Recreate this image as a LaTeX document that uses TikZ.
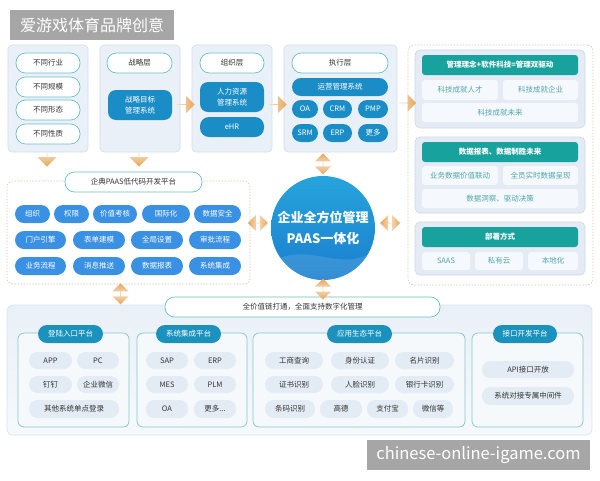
\documentclass[tikz,border=0pt]{standalone}
\usepackage{fontspec}
\setmainfont{Noto Sans CJK SC}
\usetikzlibrary{shapes.arrows,calc}
\definecolor{panelbg}{HTML}{EAF0F8}
\definecolor{panelbd}{HTML}{D3DEEA}
\definecolor{pillbd}{HTML}{6BBFC6}
\definecolor{bblue}{HTML}{1A8DC6}
\definecolor{mblue}{HTML}{3A90E2}
\definecolor{teal1}{HTML}{18A29D}
\definecolor{rpbg}{HTML}{E4EBF5}
\definecolor{rpbd}{HTML}{CDD8E6}
\definecolor{rsubbg}{HTML}{F5F8FC}
\definecolor{rsubtxt}{HTML}{4FA7AD}
\definecolor{spbd}{HTML}{83C6CB}
\definecolor{spbg}{HTML}{F6F9FC}
\definecolor{bblue2}{HTML}{1B92BD}
\definecolor{itembg}{HTML}{E3EBF4}
\definecolor{greybg}{HTML}{A6A6A6}
\definecolor{txt}{HTML}{333333}
\definecolor{dashc}{HTML}{DCC7B2}
\definecolor{bigbd}{HTML}{D8E2ED}
\definecolor{arrL}{HTML}{F5DDBE}
\definecolor{arrD}{HTML}{E6A65A}
\definecolor{circT}{HTML}{27A4DC}
\definecolor{circB}{HTML}{1A7ECF}
\newcommand\bx[7]{\node[#1, minimum width={(#5)-(#3)}, minimum height={(#6)-(#4)}, inner sep=0pt] (#2) at ({((#3)+(#5))/2},{((#4)+(#6))/2}) {#7};}
\tikzset{
  panel/.style={fill=panelbg, draw=panelbd, line width=0.6pt, rounded corners=4pt},
  wpill/.style={fill=white, draw=pillbd, line width=0.7pt, rounded corners=9.5pt, text=txt, font=\fontsize{7.5}{9}\selectfont},
  bbox/.style={fill=bblue, text=white, rounded corners=8pt, align=center, font=\fontsize{7.5}{11}\selectfont},
  bpill/.style={fill=bblue, text=white, rounded corners=9pt, font=\fontsize{7.5}{9}\selectfont},
  mpill/.style={fill=mblue, text=white, rounded corners=9pt, font=\fontsize{7.5}{9}\selectfont},
  dbox/.style={draw=dashc, dash pattern=on 1.5pt off 1.5pt, line width=0.6pt, rounded corners=6pt},
  rpanel/.style={fill=rpbg, draw=rpbd, line width=0.6pt, rounded corners=5pt},
  rhead/.style={fill=teal1, text=white, rounded corners=3pt, font=\fontsize{7.5}{9}\selectfont\bfseries},
  rsub/.style={fill=rsubbg, text=rsubtxt, rounded corners=3pt, font=\fontsize{7.5}{9}\selectfont},
  bigp/.style={top color=panelbg, bottom color=spbg, draw=bigbd, line width=0.6pt, rounded corners=6pt},
  spanel/.style={fill=spbg, draw=spbd, line width=0.7pt, rounded corners=6pt},
  shead/.style={fill=bblue2, text=white, rounded corners=9pt, font=\fontsize{7.5}{9}\selectfont},
  item/.style={fill=itembg, text=txt, rounded corners=8.5pt, font=\fontsize{7.5}{9}\selectfont},
  greybox/.style={fill=greybg, text=white},
  harr/.style={single arrow, minimum height=17, minimum width=17, single arrow head extend=4, inner sep=0pt, left color=arrL, right color=arrD},
  darr/.style={single arrow, shape border rotate=270, minimum height=14, minimum width=19, single arrow head extend=4.5, inner sep=0pt, top color=arrL, bottom color=arrD},
  hdarr/.style={double arrow, minimum height=20, minimum width=16, double arrow head extend=4, inner sep=0pt, left color=arrD, right color=arrD, middle color=arrL},
  vdarr/.style={double arrow, shape border rotate=90, minimum height=21, minimum width=16, double arrow head extend=4, inner sep=0pt, top color=arrD, bottom color=arrD, middle color=arrL},
}
\begin{document}
\begin{tikzpicture}[x=1pt,y=-1pt, font=\fontsize{7.5}{9}\selectfont, text=txt]
\fill[white] (0,0) rectangle (600,480);
\useasboundingbox (0,0) rectangle (600,480);
% title
\bx{greybox, font=\fontsize{16}{18}\selectfont}{title}{10}{10}{174}{40}{爱游戏体育品牌创意}
% top row panels
\bx{panel}{p1}{8}{45}{88}{152}{}
\bx{panel}{p2}{100}{45}{180}{152}{}
\bx{panel}{p3}{192}{45}{272}{152}{}
\bx{panel}{p4}{284}{45}{397}{152}{}
\bx{wpill}{a1}{16}{53}{80}{73}{不同行业}
\bx{wpill}{a2}{16}{77}{80}{97}{不同规模}
\bx{wpill}{a3}{16}{100}{80}{120}{不同形态}
\bx{wpill}{a4}{16}{124}{80}{144}{不同性质}
\bx{wpill}{b1}{107}{53}{172}{73}{战略层}
\bx{bbox}{b2}{108}{90}{172}{120}{战略目标\\管理系统}
\bx{wpill}{c1}{200}{53}{264}{73}{组织层}
\bx{bbox}{c2}{200}{82}{264}{112}{人力资源\\管理系统}
\bx{bpill}{c3}{200}{117}{264}{137}{eHR}
\bx{wpill}{d1}{292}{53}{388}{73}{执行层}
\bx{bpill}{d2}{292}{78}{388}{96}{运营管理系统}
\bx{bpill}{d3}{292}{100}{318}{118}{OA}
\bx{bpill}{d4}{323}{100}{352}{118}{CRM}
\bx{bpill}{d5}{358}{100}{388}{118}{PMP}
\bx{bpill}{d6}{292}{124}{318}{142}{SRM}
\bx{bpill}{d7}{323}{124}{352}{142}{ERP}
\bx{bpill}{d8}{358}{124}{388}{142}{更多}
% right dashed box
\bx{dbox}{rbox}{408}{45}{593}{285}{}
\bx{rpanel}{ra}{415}{50}{585}{128}{}
\bx{rhead}{ra0}{422}{55}{578}{75}{管理理念+软件科技=管理双驱动}
\bx{rsub}{ra1}{422}{80}{498}{100}{科技成就人才}
\bx{rsub}{ra2}{503}{80}{578}{100}{科技成就企业}
\bx{rsub}{ra3}{422}{103}{578}{122}{科技成就未来}
\bx{rpanel}{rb}{415}{137}{585}{213}{}
\bx{rhead}{rb0}{422}{142}{578}{162}{数据报表、数据制胜未来}
\bx{rsub}{rb1}{422}{166}{498}{185}{业务数据价值联动}
\bx{rsub}{rb2}{503}{166}{578}{185}{全员实时数据呈现}
\bx{rsub}{rb3}{422}{189}{578}{208}{数据洞察、驱动决策}
\bx{rpanel}{rc}{415}{222}{585}{275}{}
\bx{rhead}{rc0}{422}{227}{578}{247}{部署方式}
\bx{rsub}{rc1}{422}{252}{470}{270}{SAAS}
\bx{rsub}{rc2}{475}{252}{523}{270}{私有云}
\bx{rsub}{rc3}{528}{252}{578}{270}{本地化}
% middle left dashed box
\bx{dbox}{mbox}{7}{181}{250}{284}{}
\bx{wpill}{m0}{65}{172}{202}{192}{企典PAAS低代码开发平台}
\bx{mpill}{m1}{15}{205}{50}{223}{组织}
\bx{mpill}{m2}{54}{205}{89}{223}{权限}
\bx{mpill}{m3}{93}{205}{137}{223}{价值考核}
\bx{mpill}{m4}{142}{205}{190}{223}{国际化}
\bx{mpill}{m5}{194}{205}{241}{223}{数据安全}
\bx{mpill}{m6}{15}{231}{66}{249}{门户引擎}
\bx{mpill}{m7}{73}{231}{125}{249}{表单建模}
\bx{mpill}{m8}{131}{231}{183}{249}{全局设置}
\bx{mpill}{m9}{189}{231}{241}{249}{审批流程}
\bx{mpill}{m10}{15}{257}{66}{275}{业务流程}
\bx{mpill}{m11}{73}{257}{125}{275}{消息推送}
\bx{mpill}{m12}{131}{257}{183}{275}{数据报表}
\bx{mpill}{m13}{189}{257}{241}{275}{系统集成}
% circle
\node[circle, minimum size=104, inner sep=0pt, top color=circT, bottom color=circB] (circ) at (323,228) {};
\begin{scope}
\clip (circ.center) circle (52);
\fill[white, opacity=0.12] (271,262) .. controls (310,240) and (340,275) .. (376,250) -- (376,282) -- (271,282) -- cycle;
\end{scope}
\node[text=white, align=center, font=\fontsize{13}{21}\selectfont\bfseries] (circtxt) at (circ.center) {企业全方位管理\\PAAS一体化};
% bottom panel
\bx{bigp}{big}{7}{305}{592}{435}{}
\bx{wpill}{bl}{165}{297}{440}{317}{全价值链打通，全面支持数字化管理}
\bx{spanel}{s1}{18}{333}{129}{427}{}
\bx{spanel}{s2}{137}{333}{247}{427}{}
\bx{spanel}{s3}{253}{333}{465}{427}{}
\bx{spanel}{s4}{472}{333}{583}{427}{}
\bx{shead}{s1h}{38}{325}{103}{343}{登陆入口平台}
\bx{shead}{s2h}{156}{325}{221}{343}{系统集成平台}
\bx{shead}{s3h}{327}{325}{392}{343}{应用生态平台}
\bx{shead}{s4h}{493}{325}{557}{343}{接口开发平台}
\bx{item}{i1}{29}{352}{72}{369}{APP}
\bx{item}{i2}{77}{352}{119}{369}{PC}
\bx{item}{i3}{29}{376}{72}{393}{钉钉}
\bx{item}{i4}{77}{376}{119}{393}{企业微信}
\bx{item}{i5}{29}{400}{119}{418}{其他系统单点登录}
\bx{item}{j1}{146}{352}{188}{369}{SAP}
\bx{item}{j2}{194}{352}{236}{369}{ERP}
\bx{item}{j3}{146}{376}{188}{393}{MES}
\bx{item}{j4}{194}{376}{236}{393}{PLM}
\bx{item}{j5}{146}{400}{188}{418}{OA}
\bx{item}{j6}{194}{400}{236}{418}{更多...}
\bx{item}{k1}{265}{352}{323}{369}{工商查询}
\bx{item}{k2}{331}{352}{389}{369}{身份认证}
\bx{item}{k3}{395}{352}{454}{369}{名片识别}
\bx{item}{k4}{265}{376}{323}{393}{证书识别}
\bx{item}{k5}{331}{376}{389}{393}{人脸识别}
\bx{item}{k6}{395}{376}{454}{393}{银行卡识别}
\bx{item}{k7}{265}{400}{315}{418}{条码识别}
\bx{item}{k8}{320}{400}{362}{418}{高德}
\bx{item}{k9}{367}{400}{408}{418}{支付宝}
\bx{item}{k10}{413}{400}{453}{418}{微信等}
\bx{item}{l1}{482}{361}{574}{378}{API接口开放}
\bx{item}{l2}{482}{387}{574}{405}{系统对接专属中间件}
% watermark
\bx{greybox, font=\fontsize{16.5}{18}\selectfont}{wm}{367}{440}{590}{470}{chinese-online-igame.com}
% arrows
\node[harr] (ar1) at ($(p2.east)!0.5!(p3.west)+(0,6)$) {};
\node[harr] (ar2) at ($(p3.east)!0.5!(p4.west)+(0,6)$) {};
\node[harr] (ar3) at ($(p4.east)+(10,4.5)$) {};
\node[darr] (ar4) at ($(p1.south)+(-1,7)$) {};
\node[darr] (ar5) at ($(p2.south)+(-1,7)$) {};
\node[vdarr] (ar6) at ($(circ.north)+(0,-12)$) {};
\node[vdarr] (ar7) at ($(circ.south)+(0,9)$) {};
\node[hdarr] (ar8) at ($(circ.west)+(-13,-5)$) {};
\node[hdarr] (ar9) at ($(circ.east)+(15,-5)$) {};
\node[vdarr] (ar10) at ($(mbox.south)+(-8,9.5)$) {};
\end{tikzpicture}
\end{document}
